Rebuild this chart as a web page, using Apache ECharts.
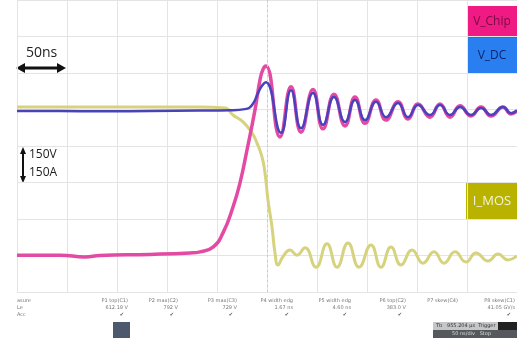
<!DOCTYPE html>
<html>
<head>
<meta charset="utf-8">
<script src="https://cdn.jsdelivr.net/npm/echarts@6/dist/echarts.min.js"></script>
<style>
html,body{margin:0;padding:0;background:#fff;}
#main{width:517px;height:338px;}
</style>
</head>
<body>
<div id="main"></div>
<script>
// time axis in ns (10 divisions of 50 ns), vertical axis in divisions (8 divisions)
var xTicks = [0, 50, 100, 150, 200, 250, 300, 350, 400, 450, 500];

var vdcT = [0, 43, 83, 133, 183, 213, 228, 235, 241, 245, 249, 264, 274, 284, 296, 306, 317, 328, 338, 348, 359, 369, 381, 391, 401, 413, 423, 433, 443, 454, 464, 474, 486, 494, 500];
var vdcV = [4.96, 4.96, 4.95, 4.96, 4.97, 4.98, 5.01, 5.12, 5.45, 5.65, 5.75, 4.36, 5.53, 4.49, 5.45, 4.58, 5.34, 4.66, 5.26, 4.71, 5.21, 4.79, 5.18, 4.79, 5.12, 4.85, 5.12, 4.85, 5.07, 4.85, 5.04, 4.85, 5.07, 4.90, 4.98];

var vchipT = [0, 43, 68, 83, 133, 173, 183, 196, 206, 216, 223, 230, 238, 243, 246, 249, 263, 274, 284, 296, 306, 317, 328, 338, 348, 359, 369, 381, 391, 401, 413, 423, 433, 443, 454, 464, 474, 486, 494, 500];
var vchipV = [1.01, 1.01, 0.96, 1.00, 1.03, 1.07, 1.10, 1.23, 1.62, 2.33, 2.99, 3.89, 4.99, 5.81, 6.10, 6.19, 4.25, 5.62, 4.38, 5.55, 4.47, 5.42, 4.55, 5.34, 4.62, 5.26, 4.71, 5.21, 4.74, 5.15, 4.79, 5.15, 4.79, 5.10, 4.82, 5.07, 4.82, 5.07, 4.88, 4.96];

var imosT = [0, 83, 183, 208, 216, 226, 235, 240, 245, 248, 251, 255, 258, 261, 266, 273, 280, 288, 299, 310, 320, 331, 342, 354, 364, 374, 384, 395, 406, 417, 427, 438, 449, 459, 471, 481, 491, 500];
var imosV = [5.07, 5.07, 5.07, 5.04, 4.85, 4.66, 4.36, 4.08, 3.70, 3.26, 2.52, 1.78, 1.07, 0.74, 0.97, 1.15, 1.01, 1.21, 0.68, 1.32, 0.68, 1.34, 0.68, 1.29, 0.68, 1.23, 0.74, 1.15, 0.79, 1.10, 0.79, 1.10, 0.82, 1.07, 0.85, 1.04, 0.88, 0.99];

var measNames = ["P1 top(C1)", "P2 max(C2)", "P3 max(C3)", "P4 width edg", "P5 width edg", "P6 top(C2)", "P7 skew(C4)", "P8 skew(C1)"];
var measValues = ["612.19 V", "792 V", "729 V", "1.67 ns", "4.60 ns", "383.0 V", "", "41.05 GV/s"];
var measStatus = ["\u2714", "\u2714", "\u2714", "\u2714", "\u2714", "\u2714", "", "\u2714"];
var measRight = [128, 178, 237, 293, 351, 406, 458, 515];

function zip(t, v) { return t.map(function (x, i) { return [x, v[i]]; }); }

var graphics = [
  // scale markers
  { type: 'text', left: 26, top: 46, style: { text: '50ns', fill: '#222', font: '14px "Open Sans"' } },
  { type: 'line', shape: { x1: 22, y1: 68, x2: 60, y2: 68 }, style: { stroke: '#111', lineWidth: 3 } },
  { type: 'polygon', shape: { points: [[16, 68], [25, 63], [25, 73]] }, style: { fill: '#111' } },
  { type: 'polygon', shape: { points: [[66, 68], [57, 63], [57, 73]] }, style: { fill: '#111' } },
  { type: 'line', shape: { x1: 23, y1: 152, x2: 23, y2: 178 }, style: { stroke: '#111', lineWidth: 2 } },
  { type: 'polygon', shape: { points: [[23, 147], [20, 154], [26, 154]] }, style: { fill: '#111' } },
  { type: 'polygon', shape: { points: [[23, 183], [20, 176], [26, 176]] }, style: { fill: '#111' } },
  { type: 'text', left: 29, top: 149, style: { text: '150V', fill: '#222', font: '12px "Open Sans"' } },
  { type: 'text', left: 29, top: 167, style: { text: '150A', fill: '#222', font: '12px "Open Sans"' } },
  // channel labels
  { type: 'rect', shape: { x: 467, y: 6, width: 50, height: 32 }, style: { fill: '#f01a84' } },
  { type: 'text', x: 492, y: 22, style: { text: 'V_Chip', fill: '#7a0b40', font: '12px "Open Sans"', align: 'center', verticalAlign: 'middle' } },
  { type: 'rect', shape: { x: 467, y: 38, width: 50, height: 35 }, style: { fill: '#2a7ff0' } },
  { type: 'text', x: 492, y: 56, style: { text: 'V_DC', fill: '#0c2470', font: '12px "Open Sans"', align: 'center', verticalAlign: 'middle' } },
  { type: 'rect', shape: { x: 466, y: 183, width: 51, height: 36 }, style: { fill: '#b9b300' } },
  { type: 'text', x: 492, y: 201, style: { text: 'I_MOS', fill: '#f4f2d8', font: '13px "Open Sans"', align: 'center', verticalAlign: 'middle' } },
  // measurement table
  { type: 'text', left: 17, top: 298, style: { text: 'asure', fill: '#777', font: '5px "DejaVu Sans"' } },
  { type: 'text', left: 17, top: 305, style: { text: 'Le', fill: '#777', font: '5px "DejaVu Sans"' } },
  { type: 'text', left: 17, top: 312, style: { text: 'Acc', fill: '#777', font: '5px "DejaVu Sans"' } },
  // thumbnails
  { type: 'rect', shape: { x: 113, y: 322, width: 17, height: 16 }, style: { fill: '#4d5a6e' } },
  { type: 'rect', shape: { x: 433, y: 322, width: 84, height: 8 }, style: { fill: '#c4c6c8' } },
  { type: 'rect', shape: { x: 433, y: 330, width: 84, height: 8 }, style: { fill: '#55595e' } },
  { type: 'rect', shape: { x: 498, y: 322, width: 19, height: 8 }, style: { fill: '#222' } },
  { type: 'text', left: 436, top: 323, style: { text: 'Tb   955.204 \u00b5s  Trigger', fill: '#333', font: '5px "DejaVu Sans"' } },
  { type: 'text', left: 452, top: 331, style: { text: '50 ns/div   Stop', fill: '#ddd', font: '5px "DejaVu Sans"' } }
];
measNames.forEach(function (n, i) {
  graphics.push({ type: 'text', x: measRight[i], y: 298, style: { text: n, fill: '#777', font: '5px "DejaVu Sans"', align: 'right' } });
  graphics.push({ type: 'text', x: measRight[i], y: 305, style: { text: measValues[i], fill: '#777', font: '5px "DejaVu Sans"', align: 'right' } });
  graphics.push({ type: 'text', x: measRight[i] - 4, y: 312, style: { text: measStatus[i], fill: '#555', font: '5px "DejaVu Sans"', align: 'right' } });
});

var chart = echarts.init(document.getElementById('main'), null, { renderer: 'canvas' });
chart.setOption({
  backgroundColor: '#ffffff',
  animation: false,
  grid: { left: 17, right: 0, top: 0, bottom: 46 },
  xAxis: {
    type: 'value', min: xTicks[0], max: xTicks[xTicks.length - 1], interval: 50,
    axisLine: { show: false }, axisTick: { show: false }, axisLabel: { show: false },
    splitLine: { show: true, lineStyle: { color: '#e4e4e4', width: 1 } }
  },
  yAxis: {
    type: 'value', min: 0, max: 8, interval: 1,
    axisLine: { show: false }, axisTick: { show: false }, axisLabel: { show: false },
    splitLine: { show: true, lineStyle: { color: '#e4e4e4', width: 1 } }
  },
  series: [
    {
      name: 'I_MOS', type: 'line', data: zip(imosT, imosV), symbol: 'none', smooth: 0.5,
      lineStyle: { color: '#d6d27e', width: 3 },
      markLine: {
        silent: true, symbol: 'none', label: { show: false },
        lineStyle: { color: '#c8c8c8', type: [2, 3], width: 1 },
        data: [{ xAxis: 250 }]
      }
    },
    {
      name: 'V_Chip', type: 'line', data: zip(vchipT, vchipV), symbol: 'none', smooth: 0.5,
      lineStyle: { color: '#e24aa4', width: 3.5 }
    },
    {
      name: 'V_DC', type: 'line', data: zip(vdcT, vdcV), symbol: 'none', smooth: 0.5,
      lineStyle: { color: '#4a42bc', width: 2.5 }
    }
  ],
  graphic: graphics
});
</script>
</body>
</html>
